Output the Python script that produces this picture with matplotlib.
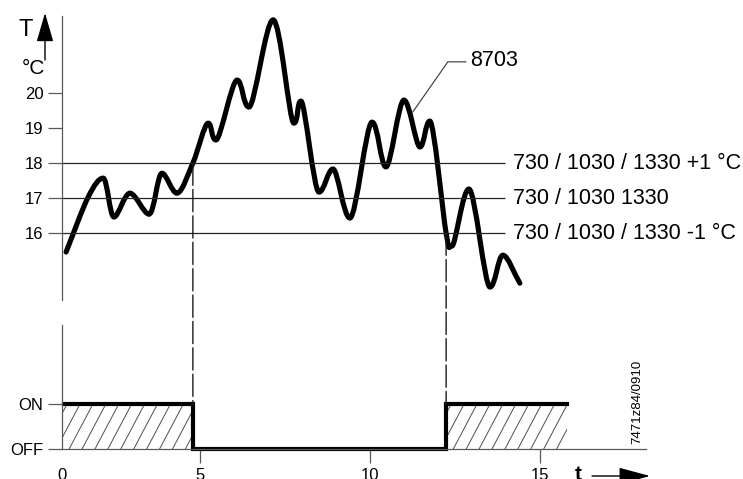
import matplotlib
matplotlib.use('Agg')
import matplotlib.pyplot as plt
from matplotlib.path import Path
from matplotlib.patches import PathPatch, ConnectionPatch, Rectangle, FancyArrowPatch
import numpy as np

# ============================================
# DATOS
# ============================================

# curva de temperatura 8703
t_curve = [1.06, 1.71, 2.15, 2.47, 2.94, 3.50, 3.88, 4.32, 4.79, 5.24, 5.47, 6.09,
           6.44, 7.15, 7.76, 7.97, 8.50, 8.91, 9.41, 10.06, 10.47, 11.00, 11.47,
           11.76, 12.24, 12.41, 12.91, 13.53, 13.91, 14.41]
T_curve = [15.46, 17.03, 17.57, 16.46, 17.14, 16.54, 17.71, 17.14, 18.00, 19.14,
           18.66, 20.37, 19.60, 22.09, 19.14, 19.77, 17.17, 17.83, 16.43, 19.17,
           17.89, 19.80, 18.46, 19.20, 16.00, 15.63, 17.26, 14.46, 15.37, 14.57]

# umbrales (730 / 1030 / 1330)
thresholds = [18, 17, 16]
threshold_labels = ['730 / 1030 / 1330 +1 °C', '730 / 1030 1330', '730 / 1030 / 1330 -1 °C']
T_ticks = [16, 17, 18, 19, 20]

# estado ON/OFF
switch_t = [1.0, 4.79, 12.24, 15.8]
switch_state = [1, 0, 1, 1]
on_spans = [(0.94, 4.79), (12.24, 15.8)]
state_ticks = [0, 1]
state_labels = ['OFF', 'ON']

# eje de tiempo
t_ticks = [0.94, 5, 10, 15]
t_labels = ['0', '5', '10', '15']

# etiqueta 8703
leader_t = [12.82, 12.29, 11.26]
leader_T = [20.89, 20.89, 19.46]

# ============================================
# FIGURA
# ============================================

plt.rcParams['font.family'] = ['Liberation Sans', 'DejaVu Sans']

W, H = 743, 479
fig = plt.figure(figsize=(W / 100, H / 100), dpi=100)

def fx(px):
    return px / W

def fy(py):
    return 1 - py / H

XLIM = (0.94, 18.12)
ax1 = fig.add_axes([fx(62), fy(300), fx(646) - fx(62), fy(16) - fy(300)])
ax2 = fig.add_axes([fx(62), fy(449), fx(646) - fx(62), fy(325) - fy(449)])

axis_col = '0.35'

# --- panel superior: temperatura ---
ax1.set_xlim(*XLIM)
ax1.set_ylim(14.09, 22.2)
for s in ['top', 'right', 'bottom']:
    ax1.spines[s].set_visible(False)
ax1.spines['left'].set_color(axis_col)
ax1.spines['left'].set_linewidth(0.9)
ax1.set_xticks([])
ax1.set_yticks(T_ticks)
ax1.tick_params(axis='y', length=10, width=0.9, color=axis_col, pad=3.4, labelsize=12)

ax1.hlines(thresholds, XLIM[0], 13.97, colors='0.15', linewidth=0.9)
for yv, lab in zip(thresholds, threshold_labels):
    ax1.text(14.2, yv, lab, fontsize=15.5, va='center', ha='left', clip_on=False)

# curva suavizada (bezier a traves de los puntos)
x = np.array(t_curve)
y = np.array(T_curve)
n = len(x)
mx = np.zeros(n)
my = np.zeros(n)
for i in range(n):
    i0 = max(i - 1, 0)
    i1 = min(i + 1, n - 1)
    mx[i] = (x[i1] - x[i0]) / (i1 - i0)
    my[i] = (y[i1] - y[i0]) / (i1 - i0)
    if 0 < i < n - 1 and (y[i] - y[i - 1]) * (y[i + 1] - y[i]) < 0:
        my[i] = 0.0
verts = [(x[0], y[0])]
codes = [Path.MOVETO]
for i in range(n - 1):
    verts += [(x[i] + mx[i] / 3, y[i] + my[i] / 3),
              (x[i + 1] - mx[i + 1] / 3, y[i + 1] - my[i + 1] / 3),
              (x[i + 1], y[i + 1])]
    codes += [Path.CURVE4] * 3
ax1.add_patch(PathPatch(Path(verts, codes), fill=False, edgecolor='black',
                        linewidth=3.7, capstyle='round', joinstyle='round'))

ax1.plot(leader_t, leader_T, color='0.2', linewidth=0.8)
ax1.text(12.94, 20.92, '8703', fontsize=15.5, va='center', ha='left')

# --- panel inferior: ON / OFF ---
ax2.set_xlim(*XLIM)
ax2.set_ylim(0, 2.756)
for s in ['top', 'right']:
    ax2.spines[s].set_visible(False)
for s in ['left', 'bottom']:
    ax2.spines[s].set_color(axis_col)
    ax2.spines[s].set_linewidth(0.9)
ax2.set_yticks(state_ticks)
ax2.set_yticklabels(state_labels)
ax2.set_xticks(t_ticks)
ax2.set_xticklabels(t_labels)
ax2.tick_params(axis='both', length=10, width=0.9, color=axis_col, pad=3.4, labelsize=12)
ax2.xaxis.get_major_ticks()[0].tick1line.set_visible(False)

# rayado de las zonas ON (lineas inclinadas recortadas al rectangulo)
hatch_dx = 0.38      # separacion horizontal
hatch_run = 0.70     # avance en x por cada unidad de y
for a, b in on_spans:
    clip = Rectangle((a, 0), b - a, 1, transform=ax2.transData,
                     facecolor='none', edgecolor='none')
    ax2.add_patch(clip)
    for x0 in np.arange(a - hatch_run + 0.15, b, hatch_dx):
        ln, = ax2.plot([x0, x0 + hatch_run], [0, 1], color='0.3', linewidth=0.7)
        ln.set_clip_path(clip)

ax2.plot(switch_t, switch_state, drawstyle='steps-post', color='black',
         linewidth=3, solid_joinstyle='miter', clip_on=False)

# lineas discontinuas entre paneles
for tt, TT in [(4.79, 18), (12.24, 16)]:
    con = ConnectionPatch(xyA=(tt, TT), coordsA=ax1.transData,
                          xyB=(tt, 1), coordsB=ax2.transData,
                          color='0.1', linewidth=1, linestyle=(0, (16, 3)))
    fig.add_artist(con)

# --- textos y flechas del marco ---
fig.text(fx(26), fy(30), 'T', fontsize=17, ha='center', va='center')
fig.text(fx(33), fy(68), '°C', fontsize=15, ha='center', va='center')
fig.add_artist(FancyArrowPatch(
    (fx(45), fy(60)), (fx(45), fy(13)), transform=fig.transFigure,
    arrowstyle='-|>,head_length=1.2,head_width=0.35', mutation_scale=15,
    color='black', linewidth=1, shrinkA=0, shrinkB=0))

fig.text(fx(578), fy(474), 't', fontsize=15, fontweight='bold', ha='center', va='center')
fig.add_artist(FancyArrowPatch(
    (fx(592), fy(476)), (fx(650), fy(476)), transform=fig.transFigure,
    arrowstyle='-|>,head_length=1.3,head_width=0.35', mutation_scale=15,
    color='black', linewidth=1, shrinkA=0, shrinkB=0))

fig.text(fx(637), fy(402), '7471z84/0910', fontsize=9.5, rotation=90,
         ha='center', va='center')

plt.savefig('out.png', dpi=100)
